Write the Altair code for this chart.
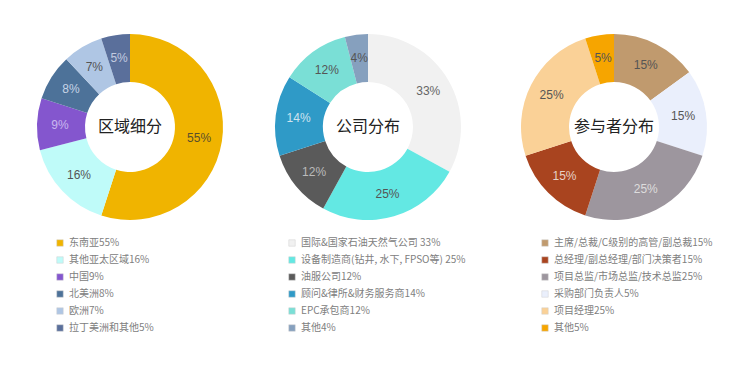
import altair as alt
import pandas as pd

# ---- Panel 1: 区域细分 ----
region_title = "区域细分"
region_legend = ["东南亚55%", "其他亚太区域16%", "中国9%", "北美洲8%", "欧洲7%", "拉丁美洲和其他5%"]
region_values = [55, 16, 9, 8, 7, 5]
region_labels = ["55%", "16%", "9%", "8%", "7%", "5%"]
region_colors = ["#F0B400", "#BFFBF9", "#8456CE", "#4D7299", "#AFC6E4", "#5A6F9B"]
region_text = ["#5a4f2c", "#555555", "#c9b8ee", "#c6d4e6", "#555555", "#c3cbe0"]

# ---- Panel 2: 公司分布 ----
company_title = "公司分布"
company_legend = ["国际&国家石油天然气公司 33%", "设备制造商(钻井, 水下, FPSO等) 25%", "油服公司12%",
                  "顾问&律所&财务服务商14%", "EPC承包商12%", "其他4%"]
company_values = [33, 25, 12, 14, 12, 4]
company_labels = ["33%", "25%", "12%", "14%", "12%", "4%"]
company_colors = ["#F1F1F1", "#63E8E3", "#5A5A5A", "#2F9AC7", "#7ADFD6", "#86A0BE"]
company_text = ["#666666", "#555555", "#bbbbbb", "#cfe3ef", "#555555", "#555555"]

# ---- Panel 3: 参与者分布 (slice order differs from legend order) ----
people_title = "参与者分布"
people_legend = ["主席/总裁/C级别的高管/副总裁15%", "总经理/副总经理/部门决策者15%", "项目总监/市场总监/技术总监25%",
                 "采购部门负责人5%", "项目经理25%", "其他5%"]
people_colors = ["#C09A6E", "#A9441F", "#9D969E", "#EAEFFC", "#FAD197", "#F6A500"]
people_slice_names = ["主席/总裁/C级别的高管/副总裁15%", "采购部门负责人5%", "项目总监/市场总监/技术总监25%",
                      "总经理/副总经理/部门决策者15%", "项目经理25%", "其他5%"]
people_values = [15, 15, 25, 15, 25, 5]
people_labels = ["15%", "15%", "25%", "15%", "25%", "5%"]
people_text = ["#555555", "#555555", "#dddddd", "#e6d2c8", "#555555", "#555555"]

CJK = "Noto Sans CJK SC"


def donut(title, slice_names, values, labels, text_colors, legend_order, legend_colors,
          width, cx, legend_x):
    df = pd.DataFrame({
        "name": slice_names,
        "value": values,
        "label": labels,
        "tcolor": text_colors,
        "idx": list(range(len(values))),
    })
    base = alt.Chart(df)
    theta = alt.Theta("value:Q", stack=True)
    order = alt.Order("idx:Q")
    arc = base.mark_arc(innerRadius=45, outerRadius=93).encode(
        theta=theta,
        order=order,
        x=alt.value(cx),
        y=alt.value(119),
        color=alt.Color(
            "name:N",
            scale=alt.Scale(domain=legend_order, range=legend_colors),
            legend=alt.Legend(
                title=None,
                orient="none",
                legendX=legend_x,
                legendY=230,
                direction="vertical",
                symbolType="square",
                symbolSize=42,
                symbolStrokeColor="#d0d0d0",
                symbolStrokeWidth=0.5,
                labelFont=CJK,
                labelFontSize=10,
                labelColor="#808080",
                labelLimit=400,
                labelOffset=4,
                rowPadding=7,
                values=legend_order,
            ),
        ),
    )
    txt = base.mark_text(radius=70, fontSize=12, font="Liberation Sans").encode(
        theta=theta,
        order=order,
        x=alt.value(cx),
        y=alt.value(119),
        text="label:N",
        fill=alt.Fill("tcolor:N", scale=None),
    )
    center = alt.Chart(pd.DataFrame({"t": [title]})).mark_text(
        fontSize=16, font=CJK, color="#222222"
    ).encode(text="t:N", x=alt.value(cx), y=alt.value(119))
    return alt.layer(arc, txt, center).properties(width=width, height=330)


p1 = donut(region_title, region_legend, region_values, region_labels, region_text,
           region_legend, region_colors, 240, 122, 47)
p2 = donut(company_title, company_legend, company_values, company_labels, company_text,
           company_legend, company_colors, 246, 120, 39)
p3 = donut(people_title, people_slice_names, people_values, people_labels, people_text,
           people_legend, people_colors, 248, 120, 46)

chart = (
    alt.hconcat(p1, p2, p3, spacing=0)
    .resolve_scale(color="independent")
    .resolve_legend(color="independent")
    .properties(padding=0)
    .configure_view(stroke=None)
)

chart.save("out.html", embed_options={"renderer": "svg", "actions": False})
